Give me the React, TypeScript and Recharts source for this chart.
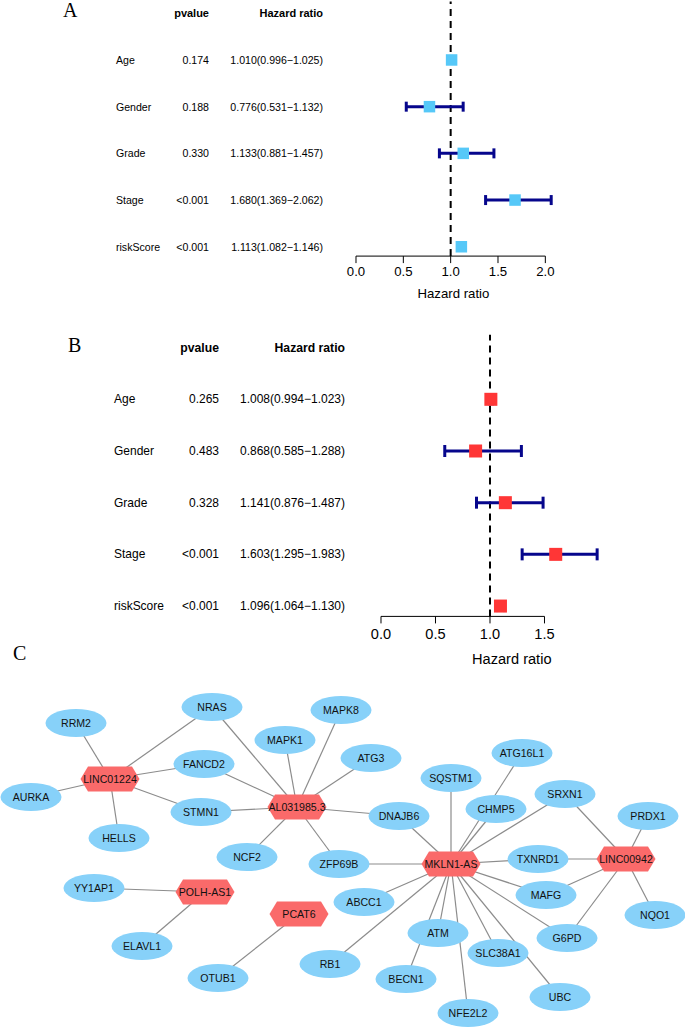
import React from "react";
import { ScatterChart, Scatter, XAxis, YAxis, ErrorBar, ReferenceLine, Label } from "recharts";

// forest plot rows (same factors in A and B)
const factors = ["Age", "Gender", "Grade", "Stage", "riskScore"];

// A: univariate cox
const uniPvalues = ["0.174", "0.188", "0.330", "<0.001", "<0.001"];
const uniHR = [1.01, 0.776, 1.133, 1.68, 1.113];
const uniLower = [0.996, 0.531, 0.881, 1.369, 1.082];
const uniUpper = [1.025, 1.132, 1.457, 2.062, 1.146];
const uniTicks = [0, 0.5, 1, 1.5, 2];

// B: multivariate cox
const multiPvalues = ["0.265", "0.483", "0.328", "<0.001", "<0.001"];
const multiHR = [1.008, 0.868, 1.141, 1.603, 1.096];
const multiLower = [0.994, 0.585, 0.876, 1.295, 1.064];
const multiUpper = [1.023, 1.288, 1.487, 1.983, 1.13];
const multiTicks = [0, 0.5, 1, 1.5];

// C: lncRNA - mRNA network (layout coordinates)
const lncRNAs = [
  { name: "LINC01224", x: 110, y: 779 },
  { name: "AL031985.3", x: 297, y: 807 },
  { name: "MKLN1-AS", x: 451, y: 864 },
  { name: "LINC00942", x: 626, y: 859 },
  { name: "POLH-AS1", x: 205, y: 892 },
  { name: "PCAT6", x: 299, y: 914 },
];

const mRNAs = [
  { name: "RRM2", x: 76, y: 723 },
  { name: "NRAS", x: 212, y: 707 },
  { name: "FANCD2", x: 204, y: 764 },
  { name: "AURKA", x: 31, y: 797 },
  { name: "STMN1", x: 201, y: 812 },
  { name: "HELLS", x: 119, y: 838 },
  { name: "MAPK8", x: 341, y: 710 },
  { name: "MAPK1", x: 285, y: 740 },
  { name: "ATG3", x: 371, y: 758 },
  { name: "NCF2", x: 247, y: 857 },
  { name: "ZFP69B", x: 339, y: 864 },
  { name: "DNAJB6", x: 399, y: 816 },
  { name: "SQSTM1", x: 451, y: 778 },
  { name: "ATG16L1", x: 522, y: 753 },
  { name: "CHMP5", x: 496, y: 809 },
  { name: "SRXN1", x: 565, y: 794 },
  { name: "PRDX1", x: 648, y: 816 },
  { name: "TXNRD1", x: 538, y: 859 },
  { name: "MAFG", x: 546, y: 895 },
  { name: "NQO1", x: 655, y: 915 },
  { name: "ABCC1", x: 364, y: 902 },
  { name: "ATM", x: 438, y: 933 },
  { name: "G6PD", x: 567, y: 938 },
  { name: "SLC38A1", x: 498, y: 953 },
  { name: "RB1", x: 330, y: 964 },
  { name: "BECN1", x: 406, y: 979 },
  { name: "UBC", x: 560, y: 997 },
  { name: "NFE2L2", x: 468, y: 1013 },
  { name: "YY1AP1", x: 94, y: 888 },
  { name: "ELAVL1", x: 142, y: 946 },
  { name: "OTUB1", x: 218, y: 978 },
];

const edges: [string, string][] = [
  ["LINC01224", "RRM2"], ["LINC01224", "NRAS"], ["LINC01224", "FANCD2"],
  ["LINC01224", "AURKA"], ["LINC01224", "STMN1"], ["LINC01224", "HELLS"],
  ["AL031985.3", "NRAS"], ["AL031985.3", "FANCD2"], ["AL031985.3", "STMN1"],
  ["AL031985.3", "MAPK1"], ["AL031985.3", "MAPK8"], ["AL031985.3", "ATG3"],
  ["AL031985.3", "DNAJB6"], ["AL031985.3", "NCF2"], ["AL031985.3", "ZFP69B"],
  ["MKLN1-AS", "DNAJB6"], ["MKLN1-AS", "SQSTM1"], ["MKLN1-AS", "ATG16L1"],
  ["MKLN1-AS", "CHMP5"], ["MKLN1-AS", "SRXN1"], ["MKLN1-AS", "TXNRD1"],
  ["MKLN1-AS", "ZFP69B"], ["MKLN1-AS", "ABCC1"], ["MKLN1-AS", "RB1"],
  ["MKLN1-AS", "ATM"], ["MKLN1-AS", "BECN1"], ["MKLN1-AS", "NFE2L2"],
  ["MKLN1-AS", "SLC38A1"], ["MKLN1-AS", "UBC"], ["MKLN1-AS", "G6PD"],
  ["MKLN1-AS", "MAFG"],
  ["LINC00942", "SRXN1"], ["LINC00942", "PRDX1"], ["LINC00942", "TXNRD1"],
  ["LINC00942", "MAFG"], ["LINC00942", "G6PD"], ["LINC00942", "NQO1"],
  ["POLH-AS1", "YY1AP1"], ["POLH-AS1", "ELAVL1"],
  ["PCAT6", "OTUB1"],
];

const FONT = "'Liberation Sans', Arial, Helvetica, sans-serif";
const SERIF = "'Liberation Serif', 'Times New Roman', serif";

type ForestProps = {
  pvalues: string[];
  hr: number[];
  lower: number[];
  upper: number[];
  ticks: number[];
  xMax: number;
  boxColor: string;
  boxSize: number;
  capHalf: number;
  plotLeft: number;
  plotRight: number;
  plotTop: number;
  plotBottom: number;
  axisHeight: number;
  labelCol: number;
  pCol: number;
  hrCol: number;
  textSize: number;
  headSize: number;
  axisFont: number;
  tickGap: number;
  titleOffset: number;
  titleDx: number;
};

const fmt = (v: number) => v.toFixed(3);

const ForestPlot = (p: ForestProps) => {
  const data = factors.map((name, i) => ({
    row: i,
    hr: p.hr[i],
    err: [p.hr[i] - p.lower[i], p.upper[i] - p.hr[i]],
  }));
  const height = p.plotBottom + p.axisHeight;

  const RowTick = (props: any) => {
    const { y, payload } = props;
    const i = payload.value;
    const common = { y, dominantBaseline: "central" as const, fontFamily: FONT, fill: "#000" };
    if (i < 0) {
      return (
        <g>
          <text {...common} x={p.pCol} textAnchor="end" fontWeight="bold" fontSize={p.headSize}>pvalue</text>
          <text {...common} x={p.hrCol} textAnchor="end" fontWeight="bold" fontSize={p.headSize}>Hazard ratio</text>
        </g>
      );
    }
    return (
      <g>
        <text {...common} x={p.labelCol} textAnchor="start" fontSize={p.textSize}>{factors[i]}</text>
        <text {...common} x={p.pCol} textAnchor="end" fontSize={p.textSize}>{p.pvalues[i]}</text>
        <text {...common} x={p.hrCol} textAnchor="end" fontSize={p.textSize}>
          {`${fmt(p.hr[i])}(${fmt(p.lower[i])}\u2212${fmt(p.upper[i])})`}
        </text>
      </g>
    );
  };

  const Box = (props: any) => {
    const { cx, cy } = props;
    const s = p.boxSize;
    return <rect x={cx - s / 2} y={cy - s / 2} width={s} height={s} fill={p.boxColor} />;
  };

  return (
    <ScatterChart
      width={685}
      height={height}
      margin={{ top: p.plotTop, right: 685 - p.plotRight, bottom: 0, left: 0 }}
    >
      <XAxis
        type="number"
        dataKey="hr"
        domain={[0, p.xMax]}
        ticks={p.ticks}
        tickFormatter={(v: number) => v.toFixed(1)}
        axisLine={false}
        tickLine={{ stroke: "#000", strokeWidth: 1 }}
        tickSize={7}
        tickMargin={p.tickGap}
        tick={{ fill: "#000", fontSize: p.axisFont, fontFamily: FONT }}
        height={p.axisHeight}
        interval={0}
      >
        <Label
          value="Hazard ratio"
          position="insideBottom"
          offset={p.titleOffset}
          dx={p.titleDx}
          fill="#000"
          fontSize={p.axisFont}
          fontFamily={FONT}
        />
      </XAxis>
      <YAxis
        type="number"
        dataKey="row"
        domain={[-1.25, 4.2]}
        reversed
        ticks={[-1, 0, 1, 2, 3, 4]}
        width={p.plotLeft}
        axisLine={false}
        tickLine={false}
        tick={<RowTick />}
        interval={0}
      />
      <ReferenceLine x={1} stroke="#000" strokeWidth={2} strokeDasharray="7 5" />
      <ReferenceLine
        segment={[{ x: 0, y: 4.2 }, { x: p.ticks[p.ticks.length - 1], y: 4.2 }]}
        stroke="#000"
        strokeWidth={1}
      />
      <Scatter data={data} shape={() => <g />} isAnimationActive={false}>
        <ErrorBar dataKey="err" direction="x" width={p.capHalf} stroke="#06068c" strokeWidth={3} />
      </Scatter>
      <Scatter data={data} shape={<Box />} isAnimationActive={false} />
    </ScatterChart>
  );
};

const NODE_FONT = 10.6;

const EllipseNode = (props: any) => {
  const { cx, cy, payload } = props;
  return (
    <g>
      <ellipse cx={cx} cy={cy} rx={30.5} ry={14} fill="#87d1f9" />
      <text x={cx} y={cy} textAnchor="middle" dominantBaseline="central" fontSize={NODE_FONT} fontFamily={FONT} fill="#111">
        {payload.name}
      </text>
    </g>
  );
};

const HexNode = (props: any) => {
  const { cx, cy, payload } = props;
  const w = 29.5;
  const inner = 22;
  const h = 12.5;
  const pts = [
    [cx - w, cy], [cx - inner, cy - h], [cx + inner, cy - h],
    [cx + w, cy], [cx + inner, cy + h], [cx - inner, cy + h],
  ].map((q) => q.join(",")).join(" ");
  return (
    <g>
      <polygon points={pts} fill="#fa6a6a" />
      <text x={cx} y={cy} textAnchor="middle" dominantBaseline="central" fontSize={NODE_FONT} fontFamily={FONT} fill="#111">
        {payload.name}
      </text>
    </g>
  );
};

const Network = () => {
  const all = [...lncRNAs, ...mRNAs];
  const find = (n: string) => all.find((d) => d.name === n)!;
  return (
    <ScatterChart width={685} height={348} margin={{ top: 0, right: 0, bottom: 0, left: 0 }}>
      <XAxis type="number" dataKey="x" domain={[0, 685]} hide />
      <YAxis type="number" dataKey="y" domain={[680, 1028]} reversed hide />
      {edges.map(([a, b], i) => (
        <Scatter
          key={i}
          data={[find(a), find(b)]}
          line={{ stroke: "#8c8c8c", strokeWidth: 1.2 }}
          shape={() => <g />}
          isAnimationActive={false}
        />
      ))}
      <Scatter data={mRNAs} shape={<EllipseNode />} isAnimationActive={false} />
      <Scatter data={lncRNAs} shape={<HexNode />} isAnimationActive={false} />
    </ScatterChart>
  );
};

const PanelLetter = ({ text, x, y }: { text: string; x: number; y: number }) => (
  <div
    style={{
      position: "absolute",
      left: x,
      top: y,
      fontFamily: SERIF,
      fontSize: 20,
      lineHeight: "20px",
      color: "#000",
    }}
  >
    {text}
  </div>
);

export default function App() {
  return (
    <div style={{ position: "absolute", left: 0, top: 0, width: 685, height: 1028, background: "#fff", overflow: "hidden" }}>
      <div style={{ position: "absolute", left: 0, top: 0 }}>
        <ForestPlot
          pvalues={uniPvalues}
          hr={uniHR}
          lower={uniLower}
          upper={uniUpper}
          ticks={uniTicks}
          xMax={2.1}
          boxColor="#56c8f8"
          boxSize={11.5}
          capHalf={5}
          plotLeft={356}
          plotRight={554.8}
          plotTop={1.6}
          plotBottom={256.1}
          axisHeight={50}
          labelCol={116}
          pCol={209}
          hrCol={323}
          textSize={10.6}
          headSize={11}
          axisFont={13.2}
          tickGap={4}
          titleOffset={8}
          titleDx={-2}
        />
      </div>
      <div style={{ position: "absolute", left: 0, top: 320 }}>
        <ForestPlot
          pvalues={multiPvalues}
          hr={multiHR}
          lower={multiLower}
          upper={multiUpper}
          ticks={multiTicks}
          xMax={2.4}
          boxColor="#ff3636"
          boxSize={13}
          capHalf={6}
          plotLeft={381}
          plotRight={642.6}
          plotTop={14.7}
          plotBottom={296.4}
          axisHeight={56}
          labelCol={114}
          pCol={219}
          hrCol={345}
          textSize={12}
          headSize={12.2}
          axisFont={14.6}
          tickGap={5}
          titleOffset={8}
          titleDx={0}
        />
      </div>
      <PanelLetter text="A" x={63} y={0} />
      <PanelLetter text="B" x={68} y={335} />
      <PanelLetter text="C" x={13} y={643} />
      <div style={{ position: "absolute", left: 0, top: 680 }}>
        <Network />
      </div>
    </div>
  );
}
